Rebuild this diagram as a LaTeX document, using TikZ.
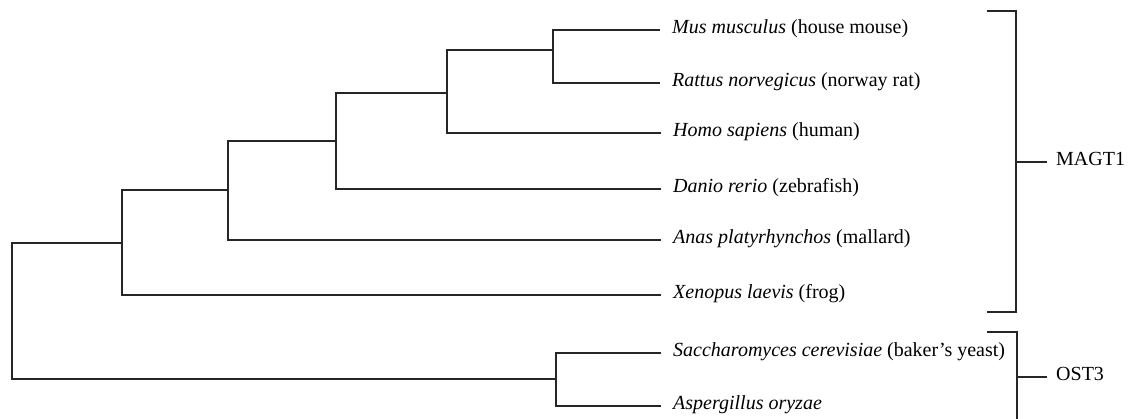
\documentclass[tikz,border=0pt]{standalone}
\usepackage{fontspec}
\setmainfont{Liberation Serif}
\begin{document}
\begin{tikzpicture}[x=1pt,y=-1pt,
  branch/.style={draw=black!85,line width=1.2pt},
  leaf/.style={anchor=west,inner xsep=12pt,inner ysep=0pt,font=\fontsize{20}{23}\selectfont,text height=1.45ex,text depth=0pt},
  grp/.style={anchor=west,inner xsep=9pt,inner ysep=0pt,font=\fontsize{20}{23}\selectfont,text height=1.45ex,text depth=0pt}]
\useasboundingbox (0,0) rectangle (1130,419);
% leaves
\node[leaf] (mus) at (660,30) {\textit{Mus musculus} (house mouse)};
\node[leaf] (rat) at (660,83) {\textit{Rattus norvegicus} (norway rat)};
\node[leaf] (homo) at (661,133) {\textit{Homo sapiens} (human)};
\node[leaf] (danio) at (661,189) {\textit{Danio rerio} (zebrafish)};
\node[leaf] (anas) at (661,240) {\textit{Anas platyrhynchos} (mallard)};
\node[leaf] (xen) at (661,295) {\textit{Xenopus laevis} (frog)};
\node[leaf] (sac) at (661,353) {\textit{Saccharomyces cerevisiae} (baker’s yeast)};
\node[leaf] (asp) at (661,406) {\textit{Aspergillus oryzae}};
% internal nodes
\coordinate (n5) at (553,50);
\coordinate (n4) at (447,93);
\coordinate (n3) at (336,141);
\coordinate (n2) at (228,190);
\coordinate (n1) at (122,243);
\coordinate (n6) at (556,379);
\coordinate (root) at (12,311);
% branches
\path[branch] (n5) |- (mus.west);
\path[branch] (n5) |- (rat.west);
\path[branch] (n4) |- (n5);
\path[branch] (n4) |- (homo.west);
\path[branch] (n3) |- (n4);
\path[branch] (n3) |- (danio.west);
\path[branch] (n2) |- (n3);
\path[branch] (n2) |- (anas.west);
\path[branch] (n1) |- (n2);
\path[branch] (n1) |- (xen.west);
\path[branch] (n6) |- (sac.west);
\path[branch] (n6) |- (asp.west);
\path[branch] (root) |- (n1);
\path[branch] (root) |- (n6);
% group brackets
\node[grp] (magt) at (1047,162) {MAGT1};
\node[grp] (ost) at (1047,377) {OST3};
\coordinate (m1) at (987,11);
\coordinate (m2) at (987,312);
\coordinate (mm) at (1016,162);
\coordinate (o1) at (987,332);
\coordinate (o2) at (1017,425);
\coordinate (om) at (1017,377);
\path[branch] (m1) -| (mm) |- (m2);
\path[branch] (mm) -- (magt.west);
\path[branch] (o1) -| (o2);
\path[branch] (om) -- (ost.west);
\end{tikzpicture}
\end{document}
